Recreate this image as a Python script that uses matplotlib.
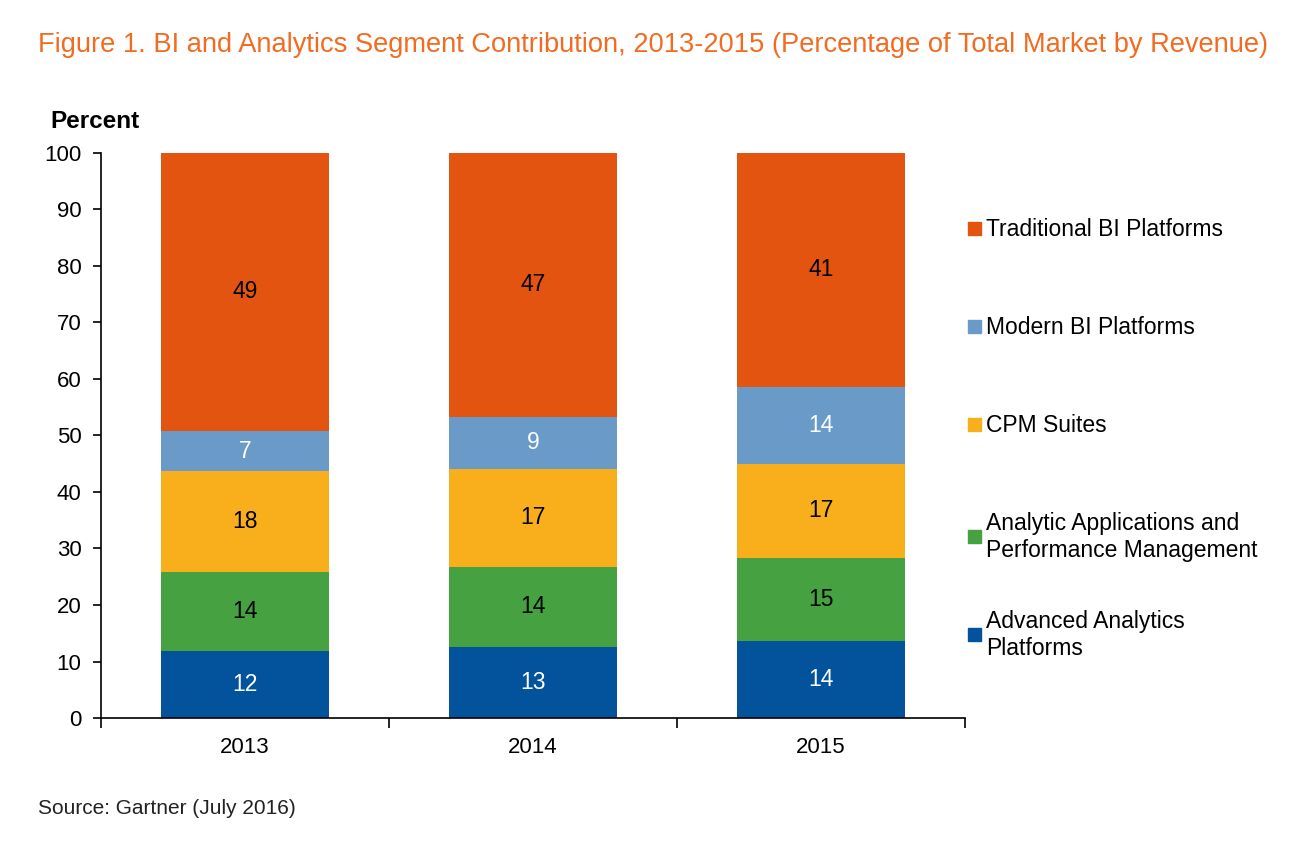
import matplotlib
matplotlib.use("Agg")
import matplotlib.pyplot as plt
from matplotlib.patches import Rectangle

plt.rcParams['font.family'] = ['Liberation Sans', 'DejaVu Sans']

years = ["2013", "2014", "2015"]
series = ["Advanced Analytics\nPlatforms",
          "Analytic Applications and\nPerformance Management",
          "CPM Suites", "Modern BI Platforms", "Traditional BI Platforms"]
advanced = [11.9, 12.6, 13.6]
analytic_apps = [13.9, 14.1, 14.7]
cpm = [17.9, 17.4, 16.7]
modern_bi = [7.1, 9.2, 13.6]
traditional_bi = [49.2, 46.7, 41.4]
colors = ["#02529C", "#46A141", "#F9AE1B", "#6A9AC8", "#E2540F"]
label_colors = ["white", "black", "black", "white", "black"]
yticks = [0, 10, 20, 30, 40, 50, 60, 70, 80, 90, 100]

data = [advanced, analytic_apps, cpm, modern_bi, traditional_bi]

fig = plt.figure(figsize=(13.02, 8.56), dpi=100)
ax = fig.add_axes([101 / 1302, 0.1612, 864 / 1302, 0.6601])

x = list(range(len(years)))
bottom = [0.0] * len(years)
for vals, col, lc in zip(data, colors, label_colors):
    ax.bar(x, vals, width=0.585, bottom=bottom, color=col, edgecolor='none')
    for xi, v, b in zip(x, vals, bottom):
        ax.text(xi, b + v / 2, f"{round(v)}", ha='center', va='center',
                fontsize=16.5, color=lc)
    bottom = [b + v for b, v in zip(bottom, vals)]

ax.set_xlim(-0.5, len(years) - 0.5)
ax.set_ylim(0, 100)
ax.set_yticks(yticks)
ax.set_yticklabels([str(t) for t in yticks], fontsize=16)
ax.set_xticks(x)
ax.set_xticklabels(years, fontsize=16)
ax.tick_params(axis='x', length=0, pad=14)
ax.set_xticks([i - 0.5 for i in range(len(years) + 1)], minor=True)
ax.tick_params(axis='x', which='minor', length=7, direction='out', width=1.2)
ax.tick_params(axis='y', length=6, direction='out', width=1.2, pad=8)
for s in ['top', 'right']:
    ax.spines[s].set_visible(False)
for s in ['left', 'bottom']:
    ax.spines[s].set_linewidth(1.2)

fig.text(50 / 1302, 1 - 121 / 856, "Percent", fontsize=17.5, fontweight='bold',
         ha='left', va='center')

fig.text(38 / 1302, 1 - 45 / 856,
         "Figure 1. BI and Analytics Segment Contribution, 2013-2015 (Percentage of Total Market by Revenue)",
         fontsize=19.6, color="#F26B21", ha='left', va='center')

fig.text(38 / 1302, 1 - 809 / 856, "Source: Gartner (July 2016)", fontsize=15,
         color="#222222", ha='left', va='center')

# legend (top-down order)
leg_y = [229, 327, 425, 537, 635]
for i, yy in enumerate(leg_y):
    idx = len(series) - 1 - i
    fig.patches.append(Rectangle((968 / 1302, 1 - (yy + 6) / 856), 13 / 1302, 13 / 856,
                                 transform=fig.transFigure, color=colors[idx]))
    fig.text(986 / 1302, 1 - yy / 856, series[idx], fontsize=16.5, ha='left',
             va='center', linespacing=1.2)

fig.savefig("out.png", dpi=100)
